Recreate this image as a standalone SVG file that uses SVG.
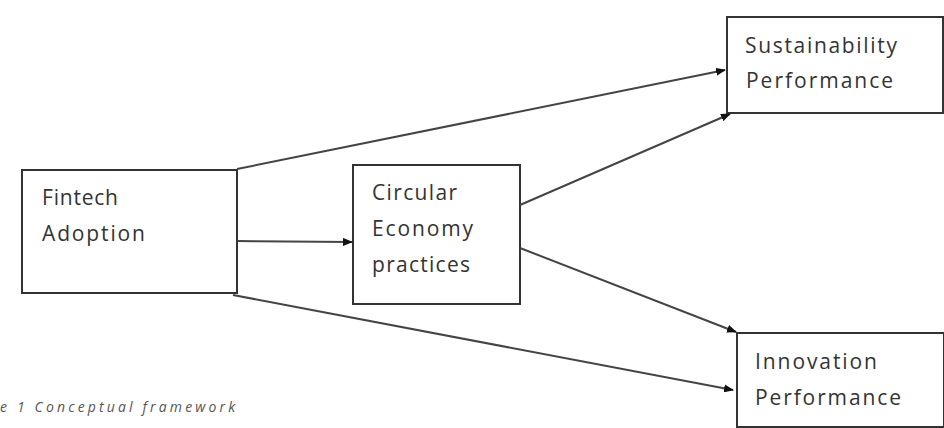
<svg xmlns="http://www.w3.org/2000/svg" width="944" height="428" viewBox="0 0 944 428">
<style>
.box{fill:#fff;stroke:#333;stroke-width:2}
.t{font-family:"Open Sans","Liberation Sans",sans-serif;font-size:21px;fill:#333}
.c{stroke:#444;stroke-width:2;fill:none}
.cap{font-family:"Open Sans","Liberation Sans",sans-serif;font-size:14px;font-style:italic;fill:#555}
</style>
<defs>
<marker id="ah" markerWidth="10" markerHeight="8" refX="9" refY="4" orient="auto" markerUnits="userSpaceOnUse">
<path d="M0,0 L10,4 L0,8 Z" fill="#111"/>
</marker>
</defs>
<rect width="944" height="428" fill="#fff"/>
<g id="fintech">
<rect class="box" x="22" y="170" width="215" height="123"/>
<text class="t" x="42" y="205" textLength="76">Fintech</text>
<text class="t" x="42" y="241" textLength="103">Adoption</text>
</g>
<g id="circular">
<rect class="box" x="353" y="165" width="167" height="139"/>
<text class="t" x="372" y="200" textLength="85">Circular</text>
<text class="t" x="372" y="236" textLength="101">Economy</text>
<text class="t" x="372" y="272" textLength="98">practices</text>
</g>
<g id="sustainability">
<rect class="box" x="727" y="17" width="216" height="96"/>
<text class="t" x="745" y="53" textLength="152">Sustainability</text>
<text class="t" x="746" y="88" textLength="147">Performance</text>
</g>
<g id="innovation">
<rect class="box" x="737" y="333" width="207" height="94"/>
<text class="t" x="755" y="369" textLength="122">Innovation</text>
<text class="t" x="755" y="405" textLength="146">Performance</text>
</g>
<g id="connectors">
<line class="c" x1="237" y1="169" x2="725" y2="70" marker-end="url(#ah)"/>
<line class="c" x1="520" y1="205" x2="730" y2="114" marker-end="url(#ah)"/>
<line class="c" x1="237" y1="241" x2="352" y2="242" marker-end="url(#ah)"/>
<line class="c" x1="520" y1="248" x2="736" y2="332" marker-end="url(#ah)"/>
<line class="c" x1="233" y1="295" x2="733" y2="390" marker-end="url(#ah)"/>
</g>
<text class="cap" x="0" y="412" textLength="235">e 1 Conceptual framework</text>
</svg>
